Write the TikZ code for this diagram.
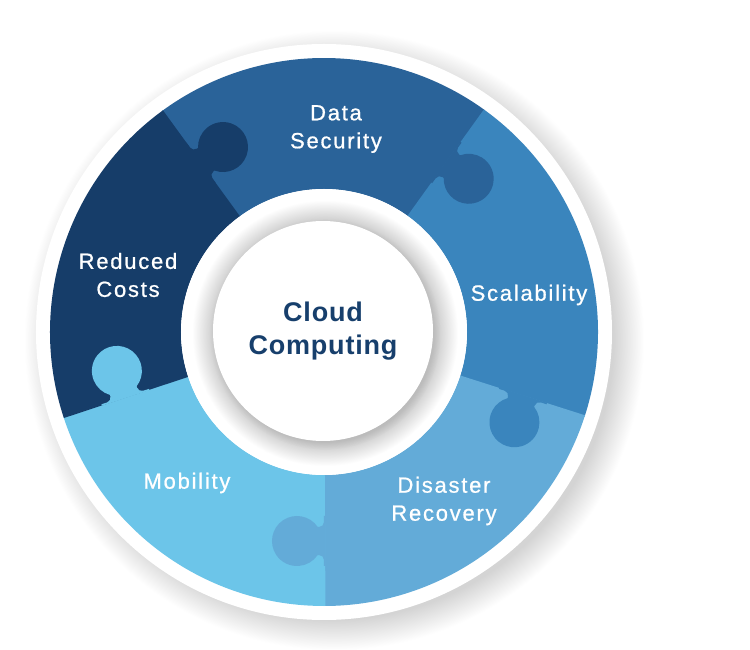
\documentclass[tikz,border=0pt]{standalone}
\usepackage{fontspec}
\setmainfont{Liberation Sans}
\newfontfamily\labelfont{Liberation Sans}[LetterSpace=8.0, FakeBold=0.8]
\newfontfamily\hubfont{Liberation Sans}[LetterSpace=3.0]
\usetikzlibrary{shadows}

\definecolor{dsblue}{HTML}{2A6399}
\definecolor{scblue}{HTML}{3A85BD}
\definecolor{drblue}{HTML}{63ABD8}
\definecolor{moblue}{HTML}{6CC5E9}
\definecolor{rcnavy}{HTML}{163D69}
\definecolor{hubnavy}{HTML}{173F6C}

\pgfdeclareradialshading{halo}{\pgfpoint{0bp}{0bp}}{color(0bp)=(black!17); color(22.5bp)=(black!17); color(25bp)=(white); color(50bp)=(white)}
\pgfdeclareradialshading{bevel}{\pgfpoint{0bp}{0bp}}{color(0bp)=(black!22); color(20.5bp)=(black!22); color(25bp)=(white); color(50bp)=(white)}

% tab of one puzzle piece, on the edge at angle #1
\newcommand{\puzzletab}[2]{%
  \begin{scope}[rotate=#1]
    \fill[#2] (184pt,1.5pt) -- (184pt,0pt) -- (190pt,0pt)
      arc[start angle=90, end angle=0, radius=5pt] -- (195pt,-6.29pt)
      arc[start angle=124.06, end angle=415.94, radius=25pt] -- (223pt,-5pt)
      arc[start angle=180, end angle=90, radius=5pt] -- (234pt,0pt) -- (234pt,1.5pt) -- cycle;
  \end{scope}}

\begin{document}
\begin{tikzpicture}[
    piece/.style={text=white, align=center, font=\labelfont\fontsize{22}{28}\selectfont},
    hub/.style={circle, fill=white, minimum size=220pt, text=hubnavy, align=center,
      font=\hubfont\bfseries\fontsize{27}{33}\selectfont,
      circular drop shadow={shadow xshift=2pt, shadow yshift=-3pt, shadow scale=1.05, opacity=0.3}}]

    \fill[white] (-324pt,-318pt) rectangle (426pt,332pt);
    \useasboundingbox (-324pt,-318pt) rectangle (426pt,332pt);

    % outer white ring with soft shadow
    \shade[shading=halo] (10pt,-8pt) circle (310pt);
    \fill[white] (0,0) circle (288pt);

    % puzzle pieces
    \foreach \a/\col in {54/dsblue, -18/scblue, -90/drblue, 198/moblue, 126/rcnavy}
      \fill[\col] (\a:143pt) -- (\a:274pt) arc[start angle=\a, end angle={\a+72.3}, radius=274pt]
        -- ({\a+72.3}:143pt) arc[start angle={\a+72.3}, end angle=\a, radius=143pt] -- cycle;

    % tabs
    \puzzletab{54}{dsblue}
    \puzzletab{-18}{scblue}
    \puzzletab{-90}{drblue}
    \puzzletab{198}{moblue}
    \puzzletab{126}{rcnavy}

    % inner ring
    \fill[white] (0,0) circle (143pt);
    \shade[shading=bevel] (1pt,-1pt) circle (133pt);
    \node[hub] (cloud) at (-1pt,1pt) {Cloud\\Computing};

    % labels
    \node[piece] (data) at (12pt,203pt) {Data\\Security};
    \node[piece] (scal) at (205pt,37pt) {Scalability};
    \node[piece] (disa) at (120pt,-169pt) {Disaster\\Recovery};
    \node[piece] (mobi) at (-137pt,-151pt) {Mobility};
    \node[piece] (redu) at (-196pt,57pt) {Reduced\\Costs};

\end{tikzpicture}
\end{document}
